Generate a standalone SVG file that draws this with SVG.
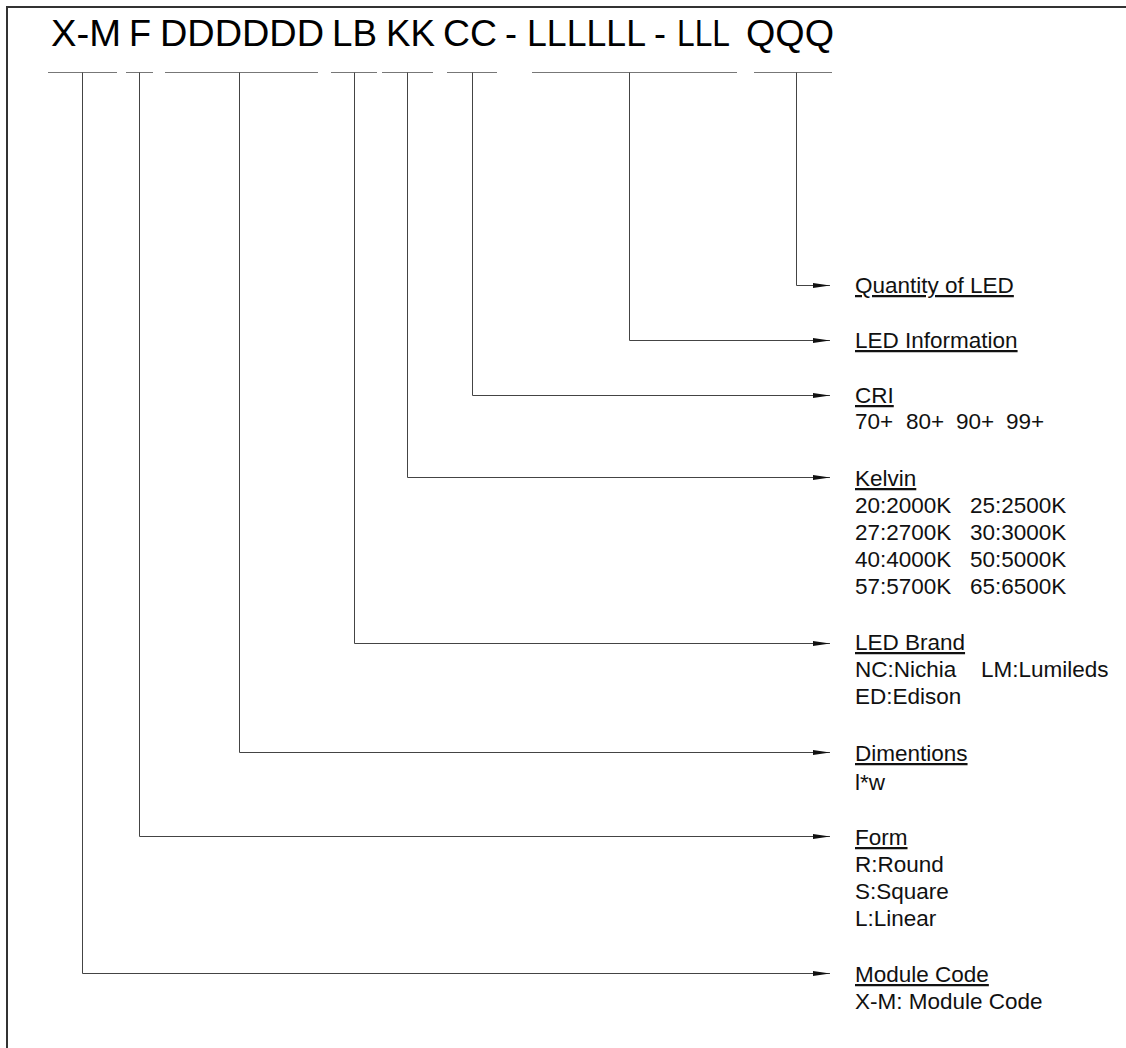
<svg xmlns="http://www.w3.org/2000/svg" width="1126" height="1048" viewBox="0 0 1126 1048">
<style>
.title{font-family:"Liberation Sans",Arial,sans-serif;font-size:36px;fill:#000}
.lbl{font-family:"Liberation Sans",Arial,sans-serif;font-size:22.5px;fill:#111}
.u{text-decoration:underline}
.ul{stroke:#777;stroke-width:1;fill:none}
.con{stroke:#444;stroke-width:1;fill:none}
</style>
<defs>
<marker id="arr" viewBox="0 0 17 5" refX="17" refY="2.5" markerWidth="17" markerHeight="5" markerUnits="userSpaceOnUse" orient="auto">
<path d="M0,0 L17,2.5 L0,5 z" fill="#111"/>
</marker>
</defs>
<rect x="0" y="0" width="1126" height="1048" fill="#fff"/>
<rect id="frame" x="7" y="7" width="1200" height="1100" fill="none" stroke="#333" stroke-width="2"/>
<g id="code">
<text class="title" x="51" y="46" textLength="70" lengthAdjust="spacingAndGlyphs">X-M</text>
<text class="title" x="129" y="46">F</text>
<text class="title" x="160" y="46" textLength="164" lengthAdjust="spacingAndGlyphs">DDDDDD</text>
<text class="title" x="332" y="46" textLength="45" lengthAdjust="spacingAndGlyphs">LB</text>
<text class="title" x="386" y="46" textLength="49" lengthAdjust="spacingAndGlyphs">KK</text>
<text class="title" x="443" y="46" textLength="54" lengthAdjust="spacingAndGlyphs">CC</text>
<text class="title" x="505" y="46" textLength="12" lengthAdjust="spacingAndGlyphs">-</text>
<text class="title" x="527" y="46" textLength="119" lengthAdjust="spacingAndGlyphs">LLLLLL</text>
<text class="title" x="654" y="46" textLength="12" lengthAdjust="spacingAndGlyphs">-</text>
<text class="title" x="677" y="46" textLength="53" lengthAdjust="spacingAndGlyphs">LLL</text>
<text class="title" x="746" y="46" textLength="88" lengthAdjust="spacingAndGlyphs">QQQ</text>
</g>
<g id="underlines">
<path class="ul" d="M48,72.5 H117 M126,72.5 H153 M165,72.5 H318 M331,72.5 H377 M382,72.5 H433 M447,72.5 H497 M532,72.5 H737 M754,72.5 H832"/>
</g>
<g id="connectors">
<path class="con" marker-end="url(#arr)" d="M796.5,72.5 V285.5 H830"/>
<path class="con" marker-end="url(#arr)" d="M629.5,72.5 V340.5 H830"/>
<path class="con" marker-end="url(#arr)" d="M472.5,72.5 V395.5 H830"/>
<path class="con" marker-end="url(#arr)" d="M407.5,72.5 V477.5 H830"/>
<path class="con" marker-end="url(#arr)" d="M354.5,72.5 V643.5 H830"/>
<path class="con" marker-end="url(#arr)" d="M239.5,72.5 V752.5 H830"/>
<path class="con" marker-end="url(#arr)" d="M139.5,72.5 V836.5 H830"/>
<path class="con" marker-end="url(#arr)" d="M82.5,72.5 V973.5 H830"/>
</g>
<g id="qty">
<text class="lbl u" x="855" y="293">Quantity of LED</text>
</g>
<g id="ledinfo">
<text class="lbl u" x="855" y="348">LED Information</text>
</g>
<g id="cri">
<text class="lbl u" x="855" y="403">CRI</text>
<text class="lbl" y="429"><tspan x="855">70+</tspan><tspan x="906">80+</tspan><tspan x="956">90+</tspan><tspan x="1006">99+</tspan></text>
</g>
<g id="kelvin">
<text class="lbl u" x="855" y="486">Kelvin</text>
<text class="lbl" y="513"><tspan x="855">20:2000K</tspan><tspan x="970">25:2500K</tspan></text>
<text class="lbl" y="540"><tspan x="855">27:2700K</tspan><tspan x="970">30:3000K</tspan></text>
<text class="lbl" y="567"><tspan x="855">40:4000K</tspan><tspan x="970">50:5000K</tspan></text>
<text class="lbl" y="594"><tspan x="855">57:5700K</tspan><tspan x="970">65:6500K</tspan></text>
</g>
<g id="brand">
<text class="lbl u" x="855" y="650">LED Brand</text>
<text class="lbl" y="677"><tspan x="855">NC:Nichia</tspan><tspan x="981">LM:Lumileds</tspan></text>
<text class="lbl" y="704" x="855">ED:Edison</text>
</g>
<g id="dim">
<text class="lbl u" x="855" y="761">Dimentions</text>
<text class="lbl" x="855" y="790">l*w</text>
</g>
<g id="form">
<text class="lbl u" x="855" y="845">Form</text>
<text class="lbl" x="855" y="872">R:Round</text>
<text class="lbl" x="855" y="899">S:Square</text>
<text class="lbl" x="855" y="926">L:Linear</text>
</g>
<g id="module">
<text class="lbl u" x="855" y="982">Module Code</text>
<text class="lbl" x="855" y="1009">X-M: Module Code</text>
</g>
</svg>
